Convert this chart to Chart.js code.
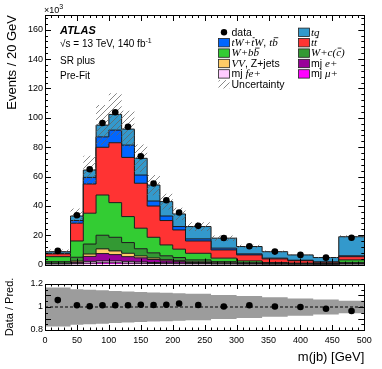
<!DOCTYPE html>
<html><head><meta charset="utf-8">
<script src="https://cdn.jsdelivr.net/npm/chart.js"></script>
<style>
html,body{margin:0;padding:0;background:#fff;overflow:hidden}
#wrap{position:relative;width:382px;height:369px;background:#fff}
#main{position:absolute;left:0;top:0}
#ratio{position:absolute;left:0;top:272px}
</style></head>
<body><div id="wrap"><canvas id="main" width="382" height="272"></canvas><canvas id="ratio" width="382" height="97"></canvas></div>
<script>
// ---------------- data (×10^3 events / 20 GeV) ----------------
const binEdges = [0,40,60,80,100,120,140,160,180,200,220,260,300,340,380,420,460,500];
// background components, listed bottom to top of the stack
const mjMu  = [0.3,0.5,1.0,1.2,1.2,1.0,0.9,0.7,0.6,0.5,0.4,0.3,0.2,0.1,0.1,0.1,0.2];
const mjFe  = [0.2,0.4,1.2,1.3,1.3,1.2,0.9,0.7,0.5,0.4,0.3,0.2,0.2,0.2,0.1,0.0,0.2];
const mjE   = [0.3,0.7,3.4,5.0,4.3,3.2,2.8,2.1,1.5,1.1,0.7,0.4,0.2,0.1,0.1,0.1,0.2];
const vvZ   = [0.2,0.8,1.6,3.2,2.5,2.3,1.3,1.0,0.8,0.7,0.5,0.3,0.2,0.1,0.1,0.1,0.2];
const wC    = [1.0,2.6,6.8,9.3,9.3,7.3,4.9,3.5,2.6,2.1,1.3,0.8,0.5,0.3,0.2,0.1,0.7];
const wBB   = [3.4,11.1,21.0,27.4,23.6,17.7,14.0,10.6,7.4,5.7,4.5,2.4,1.2,0.6,0.4,0.3,1.7];
const ttbar = [1.9,12.1,19.9,32.5,40.8,40.3,30.6,21.3,16.6,13.1,8.4,5.6,4.1,2.5,1.7,0.9,2.2];
const tW    = [0.4,1.8,4.5,7.1,8.6,8.4,5.6,3.4,3.1,2.3,1.4,1.2,0.7,0.5,0.3,0.3,0.6];
const tq    = [1.1,3.1,5.0,8.0,10.7,10.9,11.4,10.9,9.8,8.6,8.4,6.8,5.0,4.4,3.6,2.9,13.0];
const dataVals  = [9.33,33.6,64.9,96.4,103.8,93.9,73.8,55.2,43.8,35.5,26.4,18.1,12.5,8.85,6.6,4.73,18.3];
const ratioVals = [1.06,1.015,1.007,1.015,1.015,1.015,1.02,1.018,1.02,1.03,1.018,1.005,1.015,1.005,1.0,0.985,0.965];
const relUnc    = [0.17,0.155,0.15,0.145,0.14,0.135,0.13,0.127,0.124,0.12,0.115,0.105,0.095,0.085,0.075,0.065,0.055];
const yTickLabels = [0,20,40,60,80,100,120,140,160];
const xTickLabels = [0,50,100,150,200,250,300,350,400,450,500];
const ratioTickLabels = ['0.8','0.9','1','1.1','1.2'];

const SANS = '"Liberation Sans", Arial, Helvetica, sans-serif';
const SERIF = '"Liberation Serif", "Times New Roman", serif';

const components = [
  {label:'mj μ+', vals:mjMu, color:'#ff00ff'},
  {label:'mj fe+', vals:mjFe, color:'#ffccff'},
  {label:'mj e+', vals:mjE, color:'#990099'},
  {label:'VV, Z+jets', vals:vvZ, color:'#ffcc66'},
  {label:'W+c(c)', vals:wC, color:'#339933'},
  {label:'W+bb', vals:wBB, color:'#33cc33'},
  {label:'tt', vals:ttbar, color:'#ff3333'},
  {label:'tW+tW, tb', vals:tW, color:'#0066ff'},
  {label:'tq', vals:tq, color:'#3399cc'}
];

const centers = binEdges.slice(0,-1).map((e,i)=>(e+binEdges[i+1])/2);
function stepData(vals){
  const pts = vals.map((v,i)=>({x:binEdges[i], y:v}));
  pts.push({x:binEdges[binEdges.length-1], y:vals[vals.length-1]});
  return pts;
}
const total = centers.map((_,i)=>components.reduce((s,c)=>s+c.vals[i],0));

// hatch pattern
function makeHatch(){
  const n = 6;
  const c = document.createElement('canvas'); c.width=n; c.height=n;
  const g = c.getContext('2d');
  g.strokeStyle='rgba(100,100,100,0.85)'; g.lineWidth=0.9;
  g.beginPath();
  g.moveTo(-1,n+1); g.lineTo(n+1,-1);
  g.moveTo(-1,1); g.lineTo(1,-1);
  g.moveTo(n-1,n+1); g.lineTo(n+1,n-1);
  g.stroke();
  return g.createPattern(c,'repeat');
}
const hatch = makeHatch();

// ---------------- plugins ----------------
const frameTicks = {
  id:'frameTicks',
  afterDatasetsDraw(chart, args, o){
    const {ctx, chartArea:a, scales} = chart;
    const xs = scales.x, ys = scales.y;
    ctx.save(); ctx.strokeStyle='#000'; ctx.lineWidth=1;
    ctx.beginPath();
    const nx = Math.round((o.xmax-o.xmin)/o.xminor);
    for(let i=0;i<=nx;i++){
      const v = o.xmin + i*o.xminor;
      const maj = Math.abs(v/o.xmajor - Math.round(v/o.xmajor))<1e-6;
      const L = maj? o.xMajLen : o.xMinLen;
      const px = Math.round(xs.getPixelForValue(v))+0.5;
      ctx.moveTo(px,a.bottom); ctx.lineTo(px,a.bottom-L);
      ctx.moveTo(px,a.top); ctx.lineTo(px,a.top+L);
    }
    const ny = Math.floor((o.ymax-o.ymin)/o.yminor+1e-6);
    for(let i=0;i<=ny;i++){
      const v = o.ymin + i*o.yminor;
      const maj = Math.abs((v-o.ymin)/o.ymajor - Math.round((v-o.ymin)/o.ymajor))<1e-6;
      const L = maj? o.yMajLen : o.yMinLen;
      const py = Math.round(ys.getPixelForValue(v))+0.5;
      ctx.moveTo(a.left,py); ctx.lineTo(a.left+L,py);
      ctx.moveTo(a.right,py); ctx.lineTo(a.right-L,py);
    }
    ctx.stroke();
    ctx.strokeRect(Math.round(a.left)+0.5, Math.round(a.top)+0.5, Math.round(a.right-a.left), Math.round(a.bottom-a.top));
    ctx.restore();
  }
};

function drawRich(ctx, x, y, segs){
  ctx.textBaseline='middle'; ctx.textAlign='left'; ctx.fillStyle='#000'; ctx.strokeStyle='#000';
  for(const s of segs){
    ctx.font = s.f;
    const yy = y + (s.dy||0);
    ctx.fillText(s.t, x, yy);
    const w = ctx.measureText(s.t).width;
    if(s.o){ ctx.beginPath(); ctx.lineWidth=0.8; ctx.moveTo(x+1.5, yy-5.5); ctx.lineTo(x+w+0.5, yy-5.5); ctx.stroke(); }
    x += w;
  }
}
const fS = '10.5px '+SANS, fI = 'italic 11px '+SERIF;
const legendItems = [
  {col:0,row:0,type:'dot', segs:[{t:'data',f:fS}]},
  {col:1,row:0,type:'box',color:components[8].color, segs:[{t:'tq',f:fI}]},
  {col:0,row:1,type:'box',color:components[7].color, segs:[{t:'tW+',f:fI},{t:'t',f:fI,o:1},{t:'W',f:fI},{t:', ',f:fS},{t:'t',f:fI},{t:'b',f:fI,o:1}]},
  {col:1,row:1,type:'box',color:components[6].color, segs:[{t:'t',f:fI},{t:'t',f:fI,o:1}]},
  {col:0,row:2,type:'box',color:components[5].color, segs:[{t:'W+b',f:fI},{t:'b',f:fI,o:1}]},
  {col:1,row:2,type:'box',color:components[4].color, segs:[{t:'W+c(',f:fI},{t:'c',f:fI,o:1},{t:')',f:fI}]},
  {col:0,row:3,type:'box',color:components[3].color, segs:[{t:'VV',f:fI},{t:', Z+jets',f:fS}]},
  {col:1,row:3,type:'box',color:components[2].color, segs:[{t:'mj ',f:fS},{t:'e+',f:fI}]},
  {col:0,row:4,type:'box',color:components[1].color, segs:[{t:'mj ',f:fS},{t:'fe+',f:fI}]},
  {col:1,row:4,type:'box',color:components[0].color, segs:[{t:'mj ',f:fS},{t:'μ+',f:fI}]},
  {col:0,row:5,type:'hatch', segs:[{t:'Uncertainty',f:fS}]}
];
const annot = {
  id:'annot',
  afterDraw(chart){
    const ctx = chart.ctx; ctx.save();
    const colX = [218.5, 298.5], txtX=[231.5, 311];
    legendItems.forEach(it=>{
      const y = 32.3 + 10.4*it.row;
      const bx = colX[it.col];
      if(it.type==='dot'){
        ctx.fillStyle='#000'; ctx.beginPath(); ctx.arc(bx+5.5, y, 3.2, 0, Math.PI*2); ctx.fill();
      } else if(it.type==='box'){
        ctx.fillStyle=it.color; ctx.fillRect(bx, y-4.2, 11, 8.4);
        ctx.strokeStyle='#222'; ctx.lineWidth=0.8; ctx.strokeRect(bx, y-4.2, 11, 8.4);
      } else {
        ctx.fillStyle=hatch; ctx.fillRect(bx, y-4.2, 11, 8.4);
      }
      drawRich(ctx, txtX[it.col], y+0.5, it.segs);
    });
    drawRich(ctx, 60, 31, [{t:'ATLAS', f:'italic bold 11px '+SANS}]);
    drawRich(ctx, 60, 44.5, [{t:'√s = 13 TeV, 140 fb',f:'10px '+SANS},{t:'-1',f:'7px '+SANS,dy:-3.5}]);
    drawRich(ctx, 60, 61, [{t:'SR plus',f:'10px '+SANS}]);
    drawRich(ctx, 60, 76, [{t:'Pre-Fit',f:'10px '+SANS}]);
    drawRich(ctx, 44, 11, [{t:'×10',f:'9px '+SANS},{t:'3',f:'7px '+SANS,dy:-3.5}]);
    ctx.restore();
  }
};

// ---------------- main chart ----------------
const mainSets = [
  {label:'data', data:centers.map((x,i)=>({x, y:dataVals[i]})), showLine:false, pointRadius:3.3,
   pointBackgroundColor:'#000', pointBorderWidth:0, stack:'d', fill:false},
  {label:'unc hi', data:stepData(total.map((t,i)=>t*(1+relUnc[i]))), stepped:true, borderWidth:0,
   pointRadius:0, backgroundColor:hatch, fill:'+1', stack:'hh'},
  {label:'unc lo', data:stepData(total.map((t,i)=>t*(1-relUnc[i]))), stepped:true, borderWidth:0,
   pointRadius:0, fill:false, stack:'hl'}
];
components.forEach((c,k)=>{
  mainSets.push({label:c.label, data:stepData(c.vals), stepped:true, borderColor:'#1a1a1a', borderWidth:1,
    backgroundColor:c.color, fill: k===0 ? 'origin' : '-1', pointRadius:0, stack:'bkg'});
});

new Chart(document.getElementById('main'), {
  type:'line',
  data:{datasets:mainSets},
  options:{
    responsive:false, animation:false, devicePixelRatio:1, events:[],
    layout:{padding:{top:15, right:17.7, bottom:7.3, left:0}},
    plugins:{legend:{display:false}, tooltip:{enabled:false}, frameTicks:{
      xmin:0,xmax:500,xminor:10,xmajor:50,xMajLen:6,xMinLen:3,
      ymin:0,ymax:170,yminor:4,ymajor:20,yMajLen:6,yMinLen:3}},
    scales:{
      x:{type:'linear', min:0, max:500, display:false},
      y:{type:'linear', min:0, max:170, stacked:true,
         afterFit(s){ s.width = 45; },
         grid:{display:false, drawTicks:false}, border:{display:false},
         ticks:{stepSize:20, padding:2, color:'#000', font:{family:SANS, size:9},
                callback:(v)=> yTickLabels.includes(v) ? String(v) : null},
         title:{display:true, text:'Events / 20 GeV', align:'end', color:'#000',
                font:{family:SANS, size:13}, padding:{top:5, bottom:0}}}
    }
  },
  plugins:[frameTicks, annot]
});

// ---------------- ratio chart ----------------
const ratioSets = [
  {label:'ratio', data:centers.map((x,i)=>({x, y:ratioVals[i]})), showLine:false, pointRadius:3.3,
   pointBackgroundColor:'#000', pointBorderWidth:0, fill:false},
  {label:'one', data:[{x:0,y:1},{x:500,y:1}], borderColor:'#000', borderWidth:1, borderDash:[3,2],
   pointRadius:0, fill:false},
  {label:'band hi', data:stepData(relUnc.map(u=>1+u)), stepped:true, borderWidth:0, pointRadius:0,
   backgroundColor:'#9c9c9c', fill:'+1'},
  {label:'band lo', data:stepData(relUnc.map(u=>1-u)), stepped:true, borderWidth:0, pointRadius:0, fill:false}
];
new Chart(document.getElementById('ratio'), {
  type:'line',
  data:{datasets:ratioSets},
  options:{
    responsive:false, animation:false, devicePixelRatio:1, events:[],
    layout:{padding:{top:12, right:17.7, bottom:0, left:0}},
    plugins:{legend:{display:false}, tooltip:{enabled:false}, frameTicks:{
      xmin:0,xmax:500,xminor:10,xmajor:50,xMajLen:5,xMinLen:2.5,
      ymin:0.8,ymax:1.2,yminor:0.05,ymajor:0.1,yMajLen:6,yMinLen:3}},
    scales:{
      x:{type:'linear', min:0, max:500,
         afterFit(s){ s.height = 39; },
         grid:{display:false, drawTicks:false}, border:{display:false},
         ticks:{stepSize:50, autoSkip:false, maxRotation:0, padding:5, color:'#000',
                font:{family:SANS, size:9},
                callback:(v)=> xTickLabels.includes(Math.round(v)) ? String(Math.round(v)) : null},
         title:{display:true, text:'m(jb) [GeV]', align:'end', color:'#000',
                font:{family:SANS, size:13}, padding:{top:0, bottom:4}}},
      y:{type:'linear', min:0.8, max:1.2,
         afterFit(s){ s.width = 45; },
         grid:{display:false, drawTicks:false}, border:{display:false},
         ticks:{stepSize:0.1, padding:2, color:'#000', font:{family:SANS, size:9},
                callback:(v)=>{ const r=Math.round(v*10)/10; const s = r===1?'1':r.toFixed(1); return ratioTickLabels.includes(s)? s : null; }},
         title:{display:true, text:'Data / Pred.', align:'center', color:'#000',
                font:{family:SANS, size:11}, padding:{top:3, bottom:0}}}
    }
  },
  plugins:[frameTicks]
});
</script>
</body></html>
